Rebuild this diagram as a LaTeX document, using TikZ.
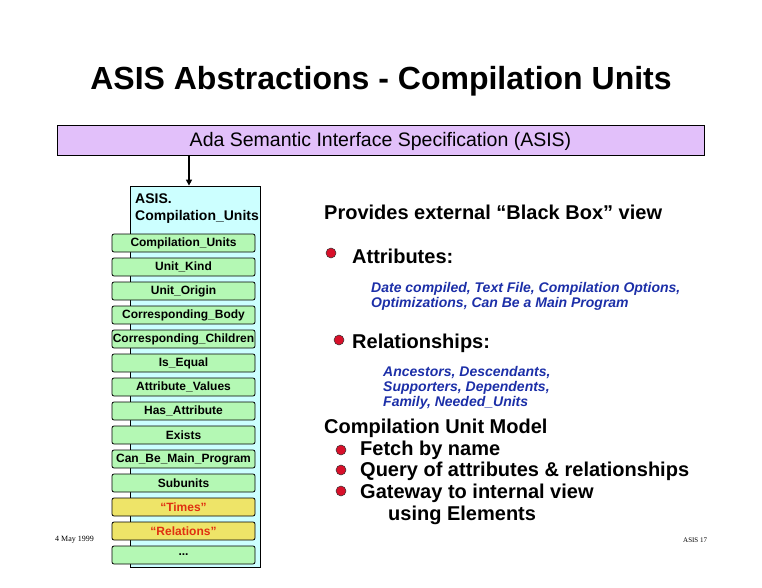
\documentclass[tikz,border=0pt]{standalone}
\usepackage{fontspec}
\setmainfont{Liberation Sans}
\newfontfamily\serifx{Liberation Serif}
\usetikzlibrary{arrows.meta}
\definecolor{barpurple}{HTML}{E2C0FA}
\definecolor{boxcyan}{HTML}{CCFFFF}
\definecolor{boxgreen}{HTML}{B4F8B4}
\definecolor{boxyellow}{HTML}{EEE468}
\definecolor{txtred}{HTML}{E03010}
\definecolor{txtblue}{HTML}{1C2FA8}
\definecolor{bulletred}{HTML}{D8102A}
\tikzset{
  opbox/.style={draw=black, line width=0.8pt, rounded corners=2pt, fill=boxgreen,
    minimum width=143pt, minimum height=18pt, inner sep=0pt,
    font=\fontsize{12}{13}\selectfont\bfseries},
  relbox/.style={opbox, fill=boxyellow, text=txtred},
  lefttext/.style={anchor=west, inner sep=0pt, align=left},
  bul/.style={circle, draw=black!80, line width=0.5pt, fill=bulletred, minimum size=10pt, inner sep=0pt},
  desc/.style={lefttext, text=txtblue, font=\fontsize{14}{15.2}\selectfont\bfseries\itshape},
  big/.style={lefttext, font=\fontsize{20}{21.5}\selectfont\bfseries},
}
\begin{document}
\begin{tikzpicture}[x=1pt,y=-1pt]
\useasboundingbox (0,0) rectangle (762,588);
\node[inner sep=0pt, font=\fontsize{32}{34}\selectfont\bfseries] (title) at (381,81) {ASIS Abstractions - Compilation Units};
\node[draw=black, line width=1pt, fill=barpurple, minimum width=647pt, minimum height=30pt, inner sep=0pt,
  font=\fontsize{19.5}{21}\selectfont] (bar) at (380.5,141) {Ada Semantic Interface Specification (ASIS)};
\node[draw=black, line width=0.8pt, fill=boxcyan, minimum width=130pt, minimum height=381pt, inner sep=0pt] (cu) at (195,376.5) {};
\coordinate (ax) at (189,0);
\draw[line width=1.6pt, -{Triangle[length=6pt,width=6pt]}] (bar.south -| ax) -- (cu.north -| ax);
\node[lefttext, font=\fontsize{14}{17}\selectfont\bfseries] (cutitle) at (135,208.5) {ASIS.\\Compilation\_Units};
\node[opbox] (b1) at (183.5,243) {Compilation\_Units};
\node[opbox] (b2) at (183.5,267) {Unit\_Kind};
\node[opbox] (b3) at (183.5,291) {Unit\_Origin};
\node[opbox] (b4) at (183.5,315) {Corresponding\_Body};
\node[opbox] (b5) at (183.5,339) {Corresponding\_Children};
\node[opbox] (b6) at (183.5,363) {Is\_Equal};
\node[opbox] (b7) at (183.5,387) {Attribute\_Values};
\node[opbox] (b8) at (183.5,411) {Has\_Attribute};
\node[opbox] (b9) at (183.5,435) {Exists};
\node[opbox] (b10) at (183.5,459) {Can\_Be\_Main\_Program};
\node[opbox] (b11) at (183.5,483) {Subunits};
\node[relbox] (b12) at (183.5,507) {``Times''};
\node[relbox] (b13) at (183.5,531) {``Relations''};
\node[opbox] (b14) at (183.5,555) {...};
\node[lefttext, font=\fontsize{20}{21}\selectfont\bfseries] (prov) at (324,212) {Provides external ``Black Box'' view};
\node[bul] (bu1) at (331,253) {};
\node[big] (attr) at (352,256) {Attributes:};
\node[desc] (attrd) at (371,296.5) {Date compiled, Text File, Compilation Options,\\Optimizations, Can Be a Main Program};
\node[bul] (bu2) at (339,340) {};
\node[big] (rel) at (352,343) {Relationships:};
\node[desc] (reld) at (383,388) {Ancestors, Descendants,\\Supporters, Dependents,\\Family, Needed\_Units};
\node[big] (model) at (324,428) {Compilation Unit Model};
\node[bul] (bu3) at (341,450) {};
\node[bul] (bu4) at (341,470) {};
\node[bul] (bu5) at (341,491) {};
\node[big] (m1) at (360,450) {Fetch by name};
\node[big] (m2) at (360,471) {Query of attributes \& relationships};
\node[big] (m3) at (360,493) {Gateway to internal view};
\node[big] (m4) at (388,515) {using Elements};
\node[lefttext, font=\serifx\fontsize{8}{9}\selectfont] (date) at (55,540) {4 May 1999};
\node[lefttext, font=\serifx\fontsize{7}{8}\selectfont] (pg) at (683,540) {ASIS 17};
\end{tikzpicture}
\end{document}
